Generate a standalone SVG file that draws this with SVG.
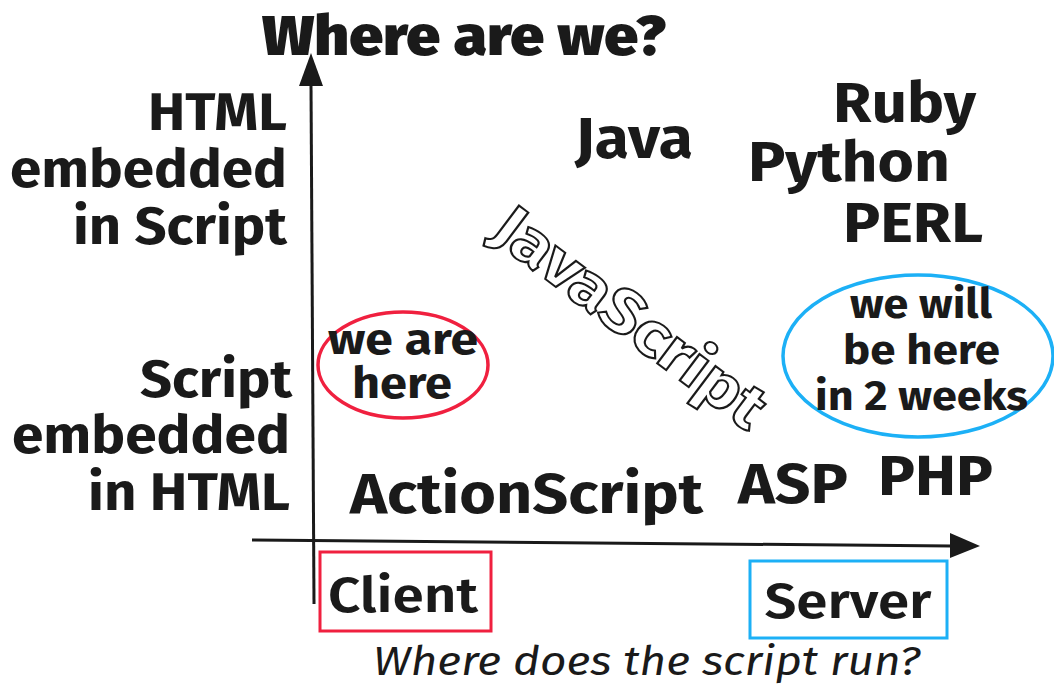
<svg xmlns="http://www.w3.org/2000/svg" width="1054" height="689" viewBox="0 0 1054 689">
<style>
.t{font-family:"Fira Sans","Noto Sans","Open Sans",sans-serif;font-weight:bold;fill:#1a1a1a}
.ax{stroke:#1a1a1a;stroke-width:3;fill:none}
</style>
<rect width="1054" height="689" fill="#fff"/>
<g id="connectors">
<path class="ax" d="M314,604 L311,84"/>
<path d="M311,53 L299,86 L323,86 z" fill="#1a1a1a"/>
<path class="ax" d="M252,540 L952,546"/>
<path d="M980,546 L950,533 L950,558 z" fill="#1a1a1a"/>
</g>
<g id="title"><text class="t" x="262" y="55" font-size="56" textLength="404" lengthAdjust="spacingAndGlyphs" style="font-weight:900">Where are we?</text></g>
<g id="y-top" font-size="53">
<text class="t" x="148" y="130" textLength="139" lengthAdjust="spacingAndGlyphs">HTML</text>
<text class="t" x="10" y="187" textLength="277" lengthAdjust="spacingAndGlyphs">embedded</text>
<text class="t" x="73" y="244" textLength="214" lengthAdjust="spacingAndGlyphs">in Script</text>
</g>
<g id="y-bottom" font-size="53">
<text class="t" x="140" y="397" textLength="152" lengthAdjust="spacingAndGlyphs">Script</text>
<text class="t" x="12" y="453" textLength="278" lengthAdjust="spacingAndGlyphs">embedded</text>
<text class="t" x="88" y="510" textLength="202" lengthAdjust="spacingAndGlyphs">in HTML</text>
</g>
<g id="java"><text class="t" x="575" y="158" font-size="58" textLength="118" lengthAdjust="spacingAndGlyphs">Java</text></g>
<g id="ruby" font-size="56">
<text class="t" x="833" y="122" textLength="143" lengthAdjust="spacingAndGlyphs">Ruby</text>
<text class="t" x="748" y="181" textLength="202" lengthAdjust="spacingAndGlyphs">Python</text>
<text class="t" x="843" y="242" textLength="140" lengthAdjust="spacingAndGlyphs">PERL</text>
</g>
<g id="javascript"><text x="0" y="0" transform="translate(488,236) rotate(37)" font-family="Fira Sans,Noto Sans,sans-serif" font-weight="bold" font-size="62" fill="#fff" stroke="#1a1a1a" stroke-width="2" textLength="325" lengthAdjust="spacingAndGlyphs">JavaScript</text></g>
<g id="actionscript"><text class="t" x="350" y="513" font-size="56" textLength="353" lengthAdjust="spacingAndGlyphs">ActionScript</text></g>
<g id="asp"><text class="t" x="738" y="503" font-size="56" textLength="110" lengthAdjust="spacingAndGlyphs">ASP</text></g>
<g id="php"><text class="t" x="878" y="495" font-size="56" textLength="115" lengthAdjust="spacingAndGlyphs">PHP</text></g>
<g id="we-are-here">
<ellipse cx="403" cy="365" rx="85" ry="53" fill="none" stroke="#f0203f" stroke-width="3.5"/>
<text class="t" x="328" y="354" font-size="44" textLength="150" lengthAdjust="spacingAndGlyphs">we are</text>
<text class="t" x="352" y="398" font-size="44" textLength="100" lengthAdjust="spacingAndGlyphs">here</text>
</g>
<g id="we-will-be-here">
<ellipse cx="918" cy="356" rx="135" ry="81" fill="none" stroke="#1cb0f6" stroke-width="3.5"/>
<text class="t" x="850" y="318" font-size="42" textLength="142" lengthAdjust="spacingAndGlyphs">we will</text>
<text class="t" x="843" y="364" font-size="42" textLength="157" lengthAdjust="spacingAndGlyphs">be here</text>
<text class="t" x="815" y="410" font-size="42" textLength="213" lengthAdjust="spacingAndGlyphs">in 2 weeks</text>
</g>
<g id="client">
<rect x="320" y="552" width="171" height="79" fill="none" stroke="#f0203f" stroke-width="3"/>
<text class="t" x="403" y="612" font-size="50" text-anchor="middle" textLength="150" lengthAdjust="spacingAndGlyphs" style="font-weight:600">Client</text>
</g>
<g id="server">
<rect x="750" y="561" width="197" height="77" fill="none" stroke="#1cb0f6" stroke-width="3"/>
<text class="t" x="848" y="618" font-size="50" text-anchor="middle" textLength="167" lengthAdjust="spacingAndGlyphs" style="font-weight:600">Server</text>
</g>
<g id="x-label"><text x="373" y="675" font-family="Fira Sans,Noto Sans,sans-serif" font-style="italic" font-size="40" fill="#1a1a1a" textLength="547" lengthAdjust="spacingAndGlyphs">Where does the script run?</text></g>
</svg>
